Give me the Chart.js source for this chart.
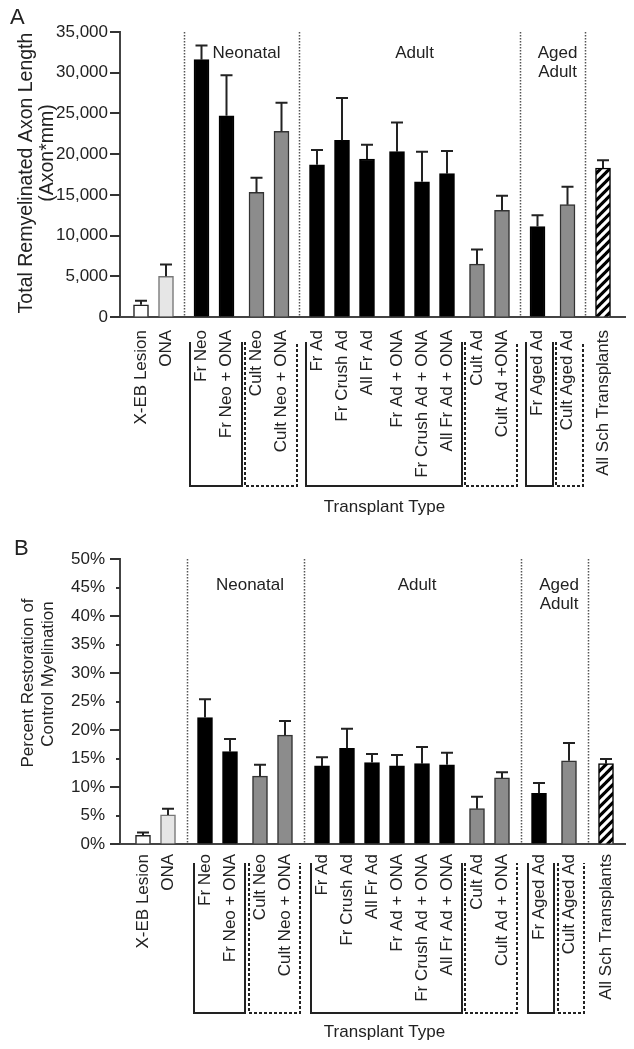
<!DOCTYPE html>
<html><head><meta charset="utf-8">
<script src="https://cdn.jsdelivr.net/npm/chart.js@4.4.1/dist/chart.umd.min.js"></script>
<style>
html,body{margin:0;padding:0;background:#fff;}
#wrap{position:relative;width:634px;height:1049px;overflow:hidden;}
canvas{position:absolute;left:0;}
#cA{top:0;} #cB{top:520px;}
</style></head><body>
<div id="wrap">
<canvas id="cA" width="634" height="520" style="width:634px;height:520px"></canvas>
<canvas id="cB" width="634" height="529" style="width:634px;height:529px"></canvas>
</div>
<script>
// ---------- DATA ----------
const categoriesA = ['X-EB Lesion','ONA','Fr Neo','Fr Neo + ONA','Cult Neo','Cult Neo + ONA','Fr Ad','Fr Crush Ad','All Fr Ad','Fr Ad + ONA','Fr Crush Ad + ONA','All Fr Ad + ONA','Cult Ad','Cult Ad +ONA','Fr Aged Ad','Cult Aged Ad','All Sch Transplants'];
const categoriesB = ['X-EB Lesion','ONA','Fr Neo','Fr Neo + ONA','Cult Neo','Cult Neo + ONA','Fr Ad','Fr Crush Ad','All Fr Ad','Fr Ad + ONA','Fr Crush Ad + ONA','All Fr Ad + ONA','Cult Ad','Cult Ad + ONA','Fr Aged Ad','Cult Aged Ad','All Sch Transplants'];
const sections = ['control','control','Neonatal','Neonatal','Neonatal','Neonatal','Adult','Adult','Adult','Adult','Adult','Adult','Adult','Adult','Aged Adult','Aged Adult','all'];
const brackets = [null,null,'Fr Neo','Fr Neo','Cult Neo','Cult Neo','Fr Ad','Fr Ad','Fr Ad','Fr Ad','Fr Ad','Fr Ad','Cult Ad','Cult Ad','Fr Aged','Cult Aged',null];
const subgroups = ['a','a','b','b','c','c','d','d','d','e','e','e','f','f','g','h','i'];
const cellKinds = ['lesion','ona','fresh','fresh','cultured','cultured','fresh','fresh','fresh','fresh','fresh','fresh','cultured','cultured','fresh','cultured','pooled'];
const sectionTitles = {'Neonatal':['Neonatal'],'Adult':['Adult'],'Aged Adult':['Aged','Adult']};

const axonLength    = [1500, 5000, 31600, 24700, 15300, 22800, 18700, 21700, 19400, 20300, 16600, 17600, 6500, 13100, 11100, 13800, 18300];
const axonLengthSem = [500, 1450, 1750, 5000, 1800, 3500, 1800, 5200, 1750, 3600, 3700, 2800, 1800, 1800, 1400, 2200, 950];
const percentRestoration    = [1.5, 5.1, 22.2, 16.2, 11.9, 19.1, 13.7, 16.8, 14.3, 13.7, 14.1, 13.9, 6.2, 11.6, 8.9, 14.6, 14.1];
const percentRestorationSem = [0.5, 1.1, 3.2, 2.2, 2.0, 2.5, 1.5, 3.4, 1.5, 1.9, 2.9, 2.1, 2.1, 1.0, 1.8, 3.1, 0.8];

const yTitleA = ['Total Remyelinated Axon Length','(Axon*mm)'];
const yTitleB = ['Percent Restoration of','Control Myelination'];
const xTitle = 'Transplant Type';

// ---------- STYLE ----------
const FONT = '"Liberation Sans", Arial, Helvetica, sans-serif';
const TEXT = '#222';
function hatchPattern(){
  const s = 9, c = document.createElement('canvas'); c.width = s; c.height = s;
  const g = c.getContext('2d');
  g.fillStyle = '#000'; g.fillRect(0,0,s,s);
  g.strokeStyle = '#fff'; g.lineWidth = 3.2; g.beginPath();
  for (const k of [-s,0,s]) { g.moveTo(k-1, s+1); g.lineTo(k+s+1, -1); }
  g.stroke();
  return g.createPattern(c,'repeat');
}
const fillOf = {lesion:'#ffffff', ona:'#e6e6e6', fresh:'#000000', cultured:'#8c8c8c', pooled:hatchPattern()};
const edgeOf = {lesion:'#222', ona:'#777', fresh:'#000', cultured:'#333', pooled:'#000'};

function computePositions(sectionGap, bracketGap, subGap){
  const pos = []; let p = 0;
  for (let i=0;i<sections.length;i++){
    if (i>0){
      p += 1;
      if (sections[i]!==sections[i-1]) p += sectionGap;
      else if (brackets[i]!==brackets[i-1]) p += bracketGap;
      else if (subgroups[i]!==subgroups[i-1]) p += subGap;
    }
    pos.push(p);
  }
  return pos;
}

const panels = {
  cA: {letter:'A', letterX:10, letterY:24, values:axonLength, sem:axonLengthSem, cats:categoriesA,
       pos:computePositions(0.42,0.2,0.2), xmin:-0.84, xmax:19.36,
       top:32, bottom:317, height:520, ymax:35000, step:2500,
       isMajor:v=>v%5000===0, label:v=>v%5000===0?v.toLocaleString('en-US'):'',
       labelPad:12, catPad:13, title:yTitleA, titleFont:19.5, titleX:[27,48], titleY:[173,153],
       secY:53, brTop:342, brBottom:486, xTitleY:507},
  cB: {letter:'B', letterX:14, letterY:35, values:percentRestoration, sem:percentRestorationSem, cats:categoriesB,
       pos:computePositions(0.48,0.2,0), xmin:-0.92, xmax:19.28,
       top:39, bottom:324, height:529, ymax:50, step:5,
       isMajor:v=>Math.round(v)%10===0, label:v=>Math.round(v)+'%',
       labelPad:15, catPad:10, title:yTitleB, titleFont:17, titleX:[28,48], titleY:[163,154],
       secY:65, brTop:343, brBottom:493, xTitleY:512}
};

const annotate = {
  id:'annotate',
  beforeDatasetsDraw(chart){
    const P = panels[chart.canvas.id], ctx = chart.ctx, ca = chart.chartArea, xs = chart.scales.x;
    ctx.save();
    ctx.strokeStyle = '#555'; ctx.lineWidth = 1.5; ctx.setLineDash([1.5,1.5]);
    for (let i=1;i<sections.length;i++){
      if (sections[i]!==sections[i-1]){
        const x = Math.round((xs.getPixelForValue(P.pos[i-1])+xs.getPixelForValue(P.pos[i]))/2)+0.5;
        ctx.beginPath(); ctx.moveTo(x, ca.top); ctx.lineTo(x, ca.bottom); ctx.stroke();
      }
    }
    ctx.restore();
  },
  afterDatasetsDraw(chart){
    const P = panels[chart.canvas.id], ctx = chart.ctx, xs = chart.scales.x, ys = chart.scales.y;
    ctx.save();
    ctx.strokeStyle = '#222'; ctx.lineWidth = 2;
    P.values.forEach((v,i)=>{
      const x = xs.getPixelForValue(P.pos[i]);
      const y0 = ys.getPixelForValue(v), y1 = ys.getPixelForValue(v + P.sem[i]);
      ctx.beginPath(); ctx.moveTo(x, y0); ctx.lineTo(x, y1);
      ctx.moveTo(x-6, y1); ctx.lineTo(x+6, y1); ctx.stroke();
    });
    ctx.restore();
  },
  afterDraw(chart){
    const P = panels[chart.canvas.id], ctx = chart.ctx, ca = chart.chartArea, xs = chart.scales.x, ys = chart.scales.y;
    ctx.save();
    // y tick marks (major long, minor short)
    ctx.strokeStyle = '#333'; ctx.lineWidth = 2;
    ys.ticks.forEach(t=>{
      const y = Math.round(ys.getPixelForValue(t.value));
      const len = P.isMajor(t.value) ? 10 : 4;
      ctx.beginPath(); ctx.moveTo(ca.left - len, y); ctx.lineTo(ca.left, y); ctx.stroke();
    });
    // section titles
    ctx.fillStyle = TEXT; ctx.font = '17px '+FONT; ctx.textAlign='center'; ctx.textBaseline='middle';
    const divs = [];
    for (let i=1;i<sections.length;i++) if (sections[i]!==sections[i-1]) divs.push({i, x:(xs.getPixelForValue(P.pos[i-1])+xs.getPixelForValue(P.pos[i]))/2});
    for (let d=0; d<divs.length-1; d++){
      const name = sections[divs[d].i]; const lines = sectionTitles[name]; if (!lines) continue;
      const cx = (divs[d].x + divs[d+1].x)/2 + 5;
      lines.forEach((ln,k)=>ctx.fillText(ln, cx, P.secY + k*19));
    }
    // brackets
    ctx.strokeStyle = '#222'; ctx.lineWidth = 2;
    let s = 0;
    while (s < brackets.length){
      if (!brackets[s]) { s++; continue; }
      let e = s; while (e+1<brackets.length && brackets[e+1]===brackets[s]) e++;
      const x1 = Math.round(xs.getPixelForValue(P.pos[s]) - 11.5), x2 = Math.round(xs.getPixelForValue(P.pos[e]) + 15);
      ctx.setLineDash(brackets[s].startsWith('Cult') ? [3,2] : []);
      ctx.beginPath(); ctx.moveTo(x1, P.brTop); ctx.lineTo(x1, P.brBottom); ctx.lineTo(x2, P.brBottom); ctx.lineTo(x2, P.brTop); ctx.stroke();
      s = e+1;
    }
    ctx.setLineDash([]);
    // x title
    ctx.font = '17px '+FONT; ctx.fillText(xTitle, (ca.left+ca.right)/2 + 12, P.xTitleY);
    // y title
    ctx.font = P.titleFont+'px '+FONT;
    P.title.forEach((ln,k)=>{
      ctx.save(); ctx.translate(P.titleX[k], P.titleY[k]); ctx.rotate(-Math.PI/2);
      ctx.textAlign='center'; ctx.textBaseline='middle'; ctx.fillText(ln,0,0); ctx.restore();
    });
    // panel letter
    ctx.font = '22px '+FONT; ctx.textAlign='left'; ctx.textBaseline='alphabetic';
    ctx.fillText(P.letter, P.letterX, P.letterY);
    ctx.restore();
  }
};

function makeChart(id){
  const P = panels[id];
  const data = P.values.map((v,i)=>({x:P.pos[i], y:v}));
  return new Chart(document.getElementById(id), {
    type:'bar',
    data:{datasets:[{
      data,
      backgroundColor: cellKinds.map(k=>fillOf[k]),
      borderColor: cellKinds.map(k=>edgeOf[k]),
      borderWidth: 1.5,
      barThickness: 15
    }]},
    options:{
      responsive:false, animation:false, events:[],
      layout:{padding:{left:0, right:9, top:P.top, bottom:0}},
      plugins:{legend:{display:false}, tooltip:{enabled:false}},
      scales:{
        x:{type:'linear', min:P.xmin, max:P.xmax, offset:false,
           grid:{display:true, drawOnChartArea:false, drawTicks:false},
           border:{display:true, color:'#444', width:2},
           afterBuildTicks:(sc)=>{ sc.ticks = P.pos.map(v=>({value:v})); },
           ticks:{autoSkip:false, minRotation:90, maxRotation:90, padding:P.catPad, color:TEXT,
                  font:{family:FONT, size:17}, callback:(v,i)=>P.cats[i]},
           afterFit:(sc)=>{ sc.height = P.height - P.bottom; sc.paddingLeft = 0; sc.paddingRight = 0; }
        },
        y:{type:'linear', min:0, max:P.ymax,
           grid:{display:true, drawOnChartArea:false, drawTicks:false},
           border:{display:true, color:'#444', width:2},
           ticks:{stepSize:P.step, padding:P.labelPad, color:TEXT, font:{family:FONT, size:17},
                  callback:(v)=>P.label(v)},
           afterFit:(sc)=>{ sc.width = 120; sc.paddingTop = 0; sc.paddingBottom = 0; }
        }
      }
    },
    plugins:[annotate]
  });
}
makeChart('cA');
makeChart('cB');
</script>
</body></html>
